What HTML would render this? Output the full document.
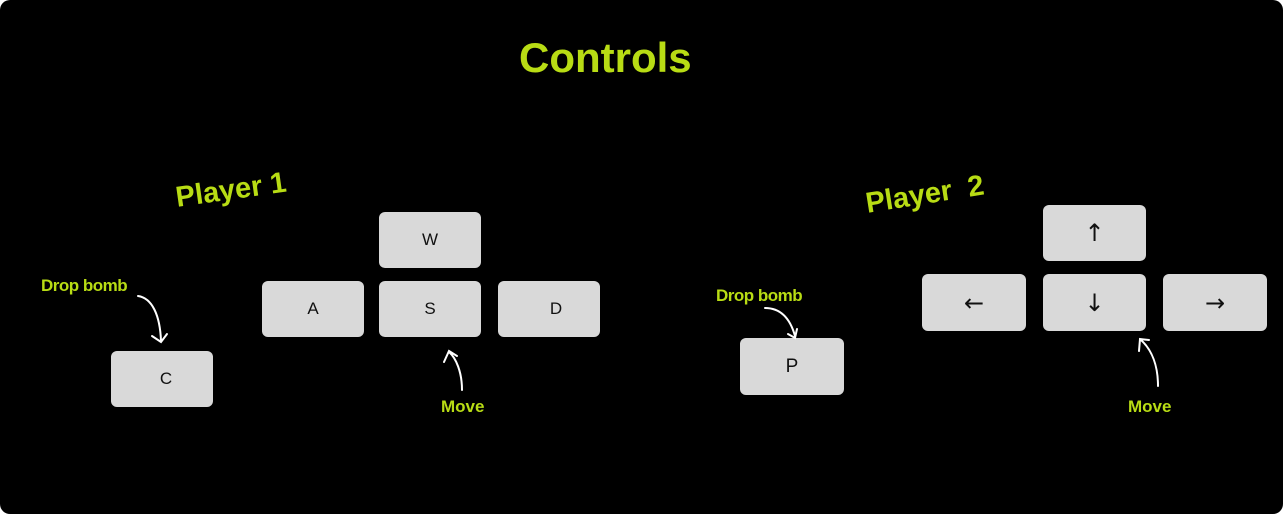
<!DOCTYPE html>
<html><head><meta charset="utf-8"><style>
html,body{margin:0;padding:0;background:#fff;}
#wrap{position:relative;width:1283px;height:514px;background:#000;border-radius:10px;overflow:hidden;font-family:"Liberation Sans",sans-serif;}
.key{position:absolute;background:#d9d9d9;border-radius:6px;display:flex;align-items:center;justify-content:center;color:#111;font-size:17px;}
.lbl{position:absolute;color:#b8dc14;font-weight:bold;font-family:"Liberation Sans Narrow","Liberation Sans",sans-serif;white-space:nowrap;}
.arr{font-size:24px;font-family:"DejaVu Sans",sans-serif;}
svg{position:absolute;left:0;top:0;}
</style></head><body>
<div id="wrap">
<div class="lbl" style="left:519px;top:34px;font-size:42px;letter-spacing:0px;">Controls</div>
<div class="lbl" style="left:176px;top:182px;font-size:29px;transform:rotate(-8deg);transform-origin:left center;">Player 1</div>
<div class="lbl" style="left:866px;top:188px;font-size:29px;transform:rotate(-9deg);transform-origin:left center;">Player&nbsp; 2</div>
<div class="lbl" style="left:41px;top:276px;font-size:17px;letter-spacing:-0.5px;">Drop bomb</div>
<div class="lbl" style="left:716px;top:286px;font-size:17px;letter-spacing:-0.5px;">Drop bomb</div>
<div class="lbl" style="left:441px;top:397px;font-size:17px;">Move</div>
<div class="lbl" style="left:1128px;top:397px;font-size:17px;">Move</div>

<div class="key" style="left:379px;top:212px;width:102px;height:56px;">W</div>
<div class="key" style="left:262px;top:281px;width:102px;height:56px;">A</div>
<div class="key" style="left:379px;top:281px;width:102px;height:56px;">S</div>
<div class="key" style="left:498px;top:281px;width:102px;height:56px;padding-left:14px;box-sizing:border-box;">D</div>
<div class="key" style="left:111px;top:351px;width:102px;height:56px;padding-left:8px;box-sizing:border-box;">C</div>
<div class="key" style="left:740px;top:338px;width:104px;height:57px;font-size:19px;">P</div>
<div class="key arr" style="left:1043px;top:205px;width:103px;height:56px;">↑</div>
<div class="key arr" style="left:922px;top:274px;width:104px;height:57px;">←</div>
<div class="key arr" style="left:1043px;top:274px;width:103px;height:57px;">↓</div>
<div class="key arr" style="left:1163px;top:274px;width:104px;height:57px;">→</div>

<svg width="1283" height="514" fill="none" stroke="#fff" stroke-width="2" stroke-linecap="round">
<path d="M138 296 C152 298 160 315 161 341 M152 336 L161 342 L167 334"/>
<path d="M765 308 C780 308 790 318 795 336 M788 334 L795 338 L797 329"/>
<path d="M462 390 C462 372 456 358 449 352 M444 362 L449 351 L457 356"/>
<path d="M1158 386 C1158 366 1152 350 1141 340 M1139 351 L1140 339 L1149 340"/>
</svg>
</div>
</body></html>
